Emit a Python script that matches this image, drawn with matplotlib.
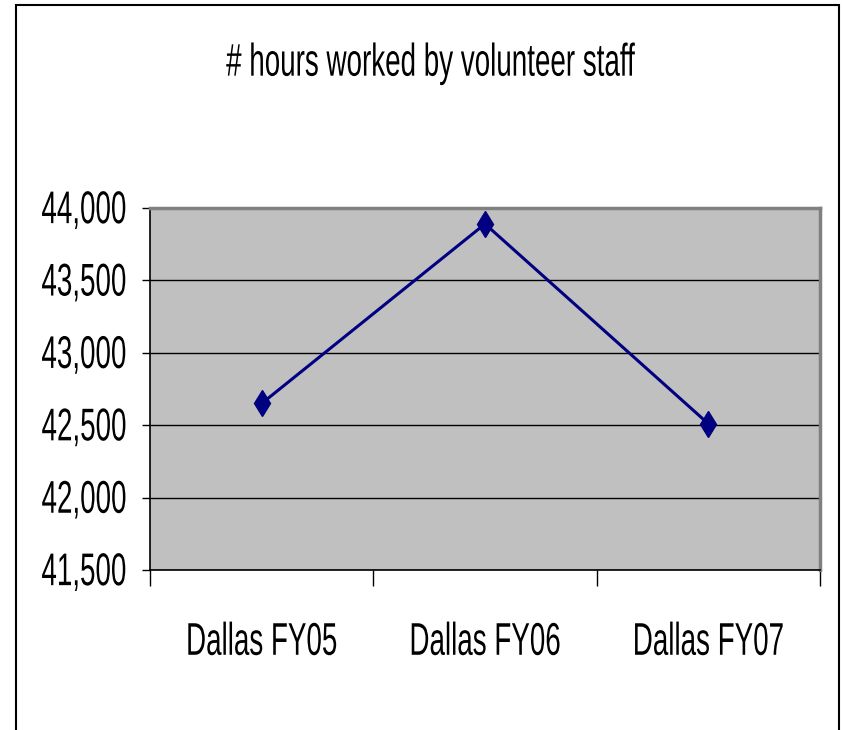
import matplotlib
matplotlib.use("Agg")
import matplotlib.pyplot as plt
from matplotlib.patches import Rectangle
from matplotlib.patheffects import AbstractPathEffect
from matplotlib.transforms import Affine2D
from matplotlib.ticker import FuncFormatter, FixedLocator

# data
categories = ["Dallas FY05", "Dallas FY06", "Dallas FY07"]
hours = [42650, 43890, 42510]
y_ticks = [41500, 42000, 42500, 43000, 43500, 44000]

plt.rcParams['font.family'] = ['Liberation Sans', 'DejaVu Sans']


class Tall(AbstractPathEffect):
    """Stretch glyphs vertically around their centre, to mimic a narrow font."""

    def __init__(self, sy=1.65):
        super().__init__()
        self.sy = sy

    def draw_path(self, renderer, gc, tpath, affine, rgbFace=None):
        ext = tpath.get_extents()
        cy = (ext.y0 + ext.y1) / 2
        stretch = Affine2D().translate(0, -cy).scale(1, self.sy).translate(0, cy)
        renderer.draw_path(gc, tpath, stretch + affine, rgbFace)


tall = [Tall(1.65)]
FS = 20

fig = plt.figure(figsize=(8.42, 7.30), dpi=100)
ax = fig.add_axes([150 / 842, 160 / 730, 670 / 842, 362 / 730])

x = list(range(len(categories)))
ax.plot(x, hours, color="#000080", linewidth=2.2, marker="d", markersize=13.5,
        markerfacecolor="#000080", markeredgecolor="#000080", zorder=3)

ax.set_facecolor("#C0C0C0")
ax.set_xlim(-0.5, len(categories) - 0.5)
ax.set_ylim(y_ticks[0], y_ticks[-1])

ax.set_yticks(y_ticks)
ax.yaxis.set_major_formatter(FuncFormatter(lambda v, p: f"{int(v):,}"))
ax.grid(axis="y", color="black", linewidth=1)
ax.set_axisbelow(True)

ax.set_xticks(x)
ax.set_xticklabels(categories)
ax.xaxis.set_minor_locator(FixedLocator([i - 0.5 for i in range(len(categories) + 1)]))
ax.tick_params(axis="x", which="major", length=0, pad=42, labelsize=FS)
ax.tick_params(axis="x", which="minor", length=11.5, width=1, color="black")
ax.tick_params(axis="y", length=6, width=1, pad=10.8, labelsize=FS)
for lab in ax.get_xticklabels() + ax.get_yticklabels():
    lab.set_path_effects(tall)

for side in ["top", "right"]:
    ax.spines[side].set_color("#808080")
    ax.spines[side].set_linewidth(2.5)
for side in ["left", "bottom"]:
    ax.spines[side].set_color("black")
    ax.spines[side].set_linewidth(1.2)

fig.text(430 / 842, 1 - 64 / 730, "# hours worked by volunteer staff",
         ha="center", va="center", fontsize=FS, path_effects=tall)

# outer chart border
fig.patches.append(Rectangle((16 / 842, -0.05), (839 - 16) / 842, 1 - 5 / 730 + 0.05,
                             transform=fig.transFigure, fill=False,
                             edgecolor="black", linewidth=1.5))

fig.savefig("out.png", dpi=100)
